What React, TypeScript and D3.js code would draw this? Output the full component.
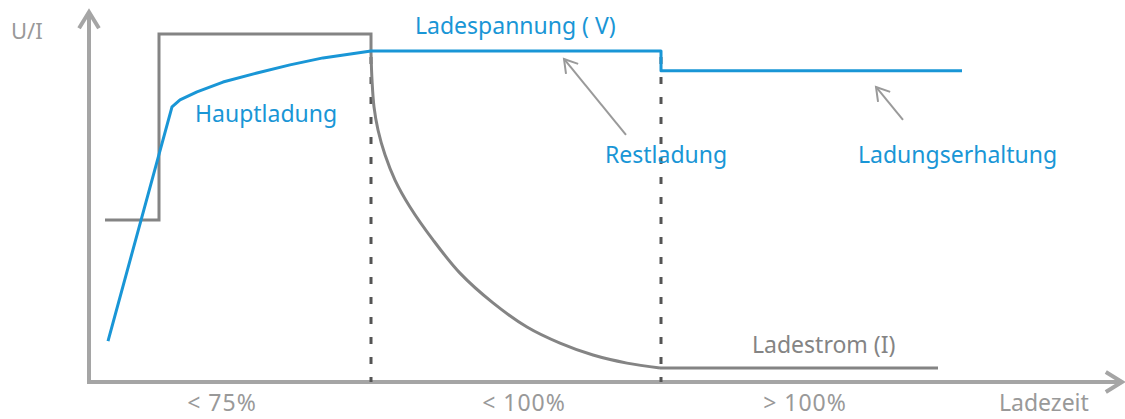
import React from "react";
import * as d3 from "d3";

// Ladekurve: x = Ladezeit (beliebige Einheit), y = U/I (relativ)
const stromPunkte: [number, number][] = [
  [1.6, 46.3],
  [7.0, 46.3],
  [7.0, 99.4],
  [28.2, 99.4],
  [28.2, 94],
];
const stromAbfall: [number, number][] = [
  [28.2, 94],
  [28.3, 86.3],
  [28.5, 78.6],
  [28.9, 72],
  [29.6, 64.9],
  [30.6, 57.7],
  [32.1, 50],
  [34.4, 40.6],
  [37.1, 31.1],
  [40.4, 22.6],
  [43.8, 15.7],
  [47.1, 11.1],
  [50.4, 7.7],
  [53.8, 5.4],
  [57.1, 4],
];
const stromErhaltung: [number, number][] = [
  [57.1, 4],
  [84.9, 4],
];
const spannungPunkte: [number, number][] = [
  [1.9, 11.7],
  [8.3, 78.6],
  [9.1, 80.6],
  [10.8, 82.9],
  [13.4, 85.7],
  [16.8, 88.3],
  [20.1, 90.6],
  [23.4, 92.6],
  [28.2, 94.6],
  [57.2, 94.6],
  [57.2, 88.9],
  [87.3, 88.9],
];
const phasenGrenzen = [28.2, 57.2];
const phasenLabels = ["< 75%", "< 100%", "> 100%"];
const phasenMitte = [13.3, 43.5, 71.6];

// Hinweispfeile: [Start x, Start y, Spitze x, Spitze y]
const hinweise = [
  [53.7, 70.6, 47.5, 92.3],
  [81.4, 74.9, 78.7, 84.3],
];

const blau = "#1996d6";
const grau = "#848484";
const achse = "#a5a5a5";

export default function App() {
  const width = 1125;
  const height = 419;
  const x = d3.scaleLinear().domain([0, 100]).range([89, 1089]);
  const y = d3.scaleLinear().domain([0, 100]).range([382, 32]);

  const linie = d3
    .line<[number, number]>()
    .x((d) => x(d[0]))
    .y((d) => y(d[1]));
  const kurve = d3
    .line<[number, number]>()
    .x((d) => x(d[0]))
    .y((d) => y(d[1]))
    .curve(d3.curveCatmullRom.alpha(0.5));

  const x0 = x(0);
  const y0 = y(0);
  const yTop = 12;
  const xEnd = 1122;

  const pfeilKopf = (x1: number, y1: number, x2: number, y2: number, len: number) => {
    const a = Math.atan2(y2 - y1, x2 - x1);
    const s = 0.55;
    const p1 = [x2 - len * Math.cos(a - s), y2 - len * Math.sin(a - s)];
    const p2 = [x2 - len * Math.cos(a + s), y2 - len * Math.sin(a + s)];
    return `M${p1[0]},${p1[1]}L${x2},${y2}L${p2[0]},${p2[1]}`;
  };

  const font = "'Noto Sans', 'Open Sans', sans-serif";

  return (
    <svg
      width={width}
      height={height}
      style={{ position: "absolute", left: 0, top: 0 }}
      fontFamily={font}
    >
      <rect width={width} height={height} fill="#fff" />

      {/* Achsen */}
      <line x1={x0} y1={y0} x2={x0} y2={yTop + 2} stroke={achse} strokeWidth={4} />
      <path
        d={pfeilKopf(x0, y0, x0, yTop, 19)}
        fill="none"
        stroke={achse}
        strokeWidth={4}
      />
      <line x1={x0 - 2} y1={y0} x2={xEnd - 2} y2={y0} stroke={achse} strokeWidth={4} />
      <path
        d={pfeilKopf(x0, y0, xEnd, y0, 19)}
        fill="none"
        stroke={achse}
        strokeWidth={4}
      />

      {/* Phasengrenzen */}
      {phasenGrenzen.map((g) => (
        <line
          key={g}
          x1={x(g)}
          x2={x(g)}
          y1={y(94.6) + 6}
          y2={y0}
          stroke="#555"
          strokeWidth={3}
          strokeDasharray="7 13"
        />
      ))}

      {/* Ladestrom */}
      <path d={linie(stromPunkte) ?? ""} fill="none" stroke={grau} strokeWidth={3} />
      <path d={kurve(stromAbfall) ?? ""} fill="none" stroke={grau} strokeWidth={3} />
      <path d={linie(stromErhaltung) ?? ""} fill="none" stroke={grau} strokeWidth={3} />

      {/* Ladespannung */}
      <path
        d={linie(spannungPunkte) ?? ""}
        fill="none"
        stroke={blau}
        strokeWidth={3}
        strokeLinejoin="round"
      />

      {/* Hinweispfeile */}
      {hinweise.map(([a, b, c, d], i) => (
        <g key={i} stroke="#9a9a9a" strokeWidth={2} fill="none">
          <line x1={x(a)} y1={y(b)} x2={x(c)} y2={y(d)} />
          <path d={pfeilKopf(x(a), y(b), x(c), y(d), 15)} />
        </g>
      ))}

      {/* Beschriftungen */}
      <text x={11} y={39} fontSize={22} fill="#999">
        U/I
      </text>
      <g fontSize={23} fill={blau}>
        <text x={x(10.6)} y={y(74.3)}>
          Hauptladung
        </text>
        <text x={x(32.6)} y={y(99.3)}>
          Ladespannung ( V)
        </text>
        <text x={x(51.6)} y={y(62.6)}>
          Restladung
        </text>
        <text x={x(76.9)} y={y(62.6)}>
          Ladungserhaltung
        </text>
      </g>
      <text x={x(66.3)} y={y(8.3)} fontSize={23} fill={grau}>
        Ladestrom (I)
      </text>
      {phasenLabels.map((t, i) => (
        <text
          key={t}
          x={x(phasenMitte[i])}
          y={411}
          fontSize={23}
          letterSpacing={1}
          fill="#999"
          textAnchor="middle"
        >
          {t}
        </text>
      ))}
      <text x={999} y={411} fontSize={23} fill="#999">
        Ladezeit
      </text>
    </svg>
  );
}
